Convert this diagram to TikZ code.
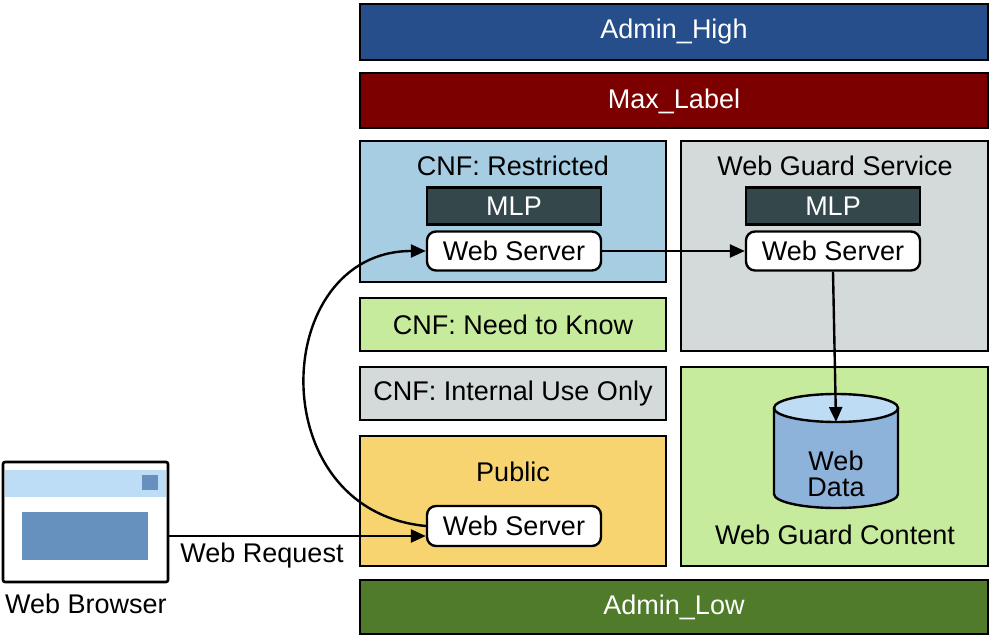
\documentclass[tikz,border=0pt]{standalone}
\usepackage{fontspec}
\setmainfont{Liberation Sans}
\usetikzlibrary{arrows.meta}
\definecolor{ahigh}{HTML}{254E8A}
\definecolor{maxl}{HTML}{7D0000}
\definecolor{restr}{HTML}{A6CDE2}
\definecolor{grayb}{HTML}{D4DAD9}
\definecolor{greenb}{HTML}{C6EB9C}
\definecolor{yellowb}{HTML}{F7D470}
\definecolor{alow}{HTML}{4F7B2B}
\definecolor{mlp}{HTML}{34474B}
\definecolor{cylb}{HTML}{8EB3DA}
\definecolor{cylt}{HTML}{BEDCF4}
\definecolor{bar}{HTML}{BDDCF6}
\definecolor{scr}{HTML}{6690BE}
\begin{document}
\begin{tikzpicture}[x=1pt,y=-1pt,
  txt/.style={font=\fontsize{27}{30}\selectfont},
  box/.style={draw=black,line width=2.4pt,txt},
  band/.style={box,text=white},
  ws/.style={draw=black,fill=white,line width=2.4pt,rounded corners=9pt,txt},
  arr/.style={line width=2.4pt,-{Triangle[length=15pt,width=13pt]}}]
\useasboundingbox (0,0) rectangle (990,636);
\path[band,fill=ahigh] (360,4) rectangle (988,60);
\node[txt,text=white] (ah) at (674,32) {Admin\_High};
\path[band,fill=maxl] (360,73) rectangle (988,128);
\node[txt,text=white] (ml) at (674,101) {Max\_Label};
\path[box,fill=restr] (360,141) rectangle (666,282);
\node[txt] (rt) at (513,166) {CNF: Restricted};
\path[box,fill=grayb] (681,141) rectangle (988,351);
\node[txt] (gt) at (835,166) {Web Guard Service};
\path[box,fill=greenb] (360,298) rectangle (666,351);
\node[txt] (nk) at (513,325) {CNF: Need to Know};
\path[box,fill=grayb] (360,367) rectangle (666,420);
\node[txt] (iu) at (513,394) {CNF: Internal Use Only};
\path[box,fill=greenb] (681,367) rectangle (988,566);
\node[txt] (gc) at (835,535) {Web Guard Content};
\path[box,fill=yellowb] (360,436) rectangle (666,566);
\node[txt] (pu) at (513,472) {Public};
\path[band,fill=alow] (360,580) rectangle (988,634);
\node[txt,text=white] (al) at (674,607) {Admin\_Low};
\node[box,fill=mlp,text=white,minimum width=174pt,minimum height=37pt,inner sep=0pt] (m1) at (514,206) {MLP};
\node[box,fill=mlp,text=white,minimum width=174pt,minimum height=37pt,inner sep=0pt] (m2) at (833,206) {MLP};
\node[ws,minimum width=174pt,minimum height=39pt,inner sep=0pt] (w1) at (514,251) {Web Server};
\node[ws,minimum width=174pt,minimum height=39pt,inner sep=0pt] (w2) at (833,251) {Web Server};
\node[ws,minimum width=174pt,minimum height=40pt,inner sep=0pt] (w3) at (514,526) {Web Server};
% cylinder
\draw[line width=2.4pt,fill=cylb] (774,408) -- (774,494) arc[start angle=180,end angle=0,x radius=62,y radius=14] -- (898,408);
\draw[line width=2.4pt,fill=cylt] (836,408) ellipse[x radius=62,y radius=14];
\node[txt,align=center,inner sep=0pt] (wd) at (836,474) {Web\\[-4pt]Data};
\coordinate (cyltop) at (836,422);
% browser
\draw[line width=2.6pt,fill=white,rounded corners=2pt] (3,462) rectangle (168,582);
\fill[bar] (5,470) rectangle (166,497);
\fill[scr] (142,475) rectangle (158,490);
\fill[scr] (22,512) rectangle (148,560);
\coordinate (br) at (168,536);
\node[txt] (wb) at (86,604) {Web Browser};
\node[txt] (wr) at (262,556) {Web Request};
% arrows
\draw[arr] (br) -- (br -| w3.west);
\draw[arr] (w3.west) .. controls (260,510) and (270,251) .. (w1.west);
\draw[arr] (w1.east) -- (w2.west);
\draw[arr] (w2.south) -- (cyltop);
\end{tikzpicture}
\end{document}
